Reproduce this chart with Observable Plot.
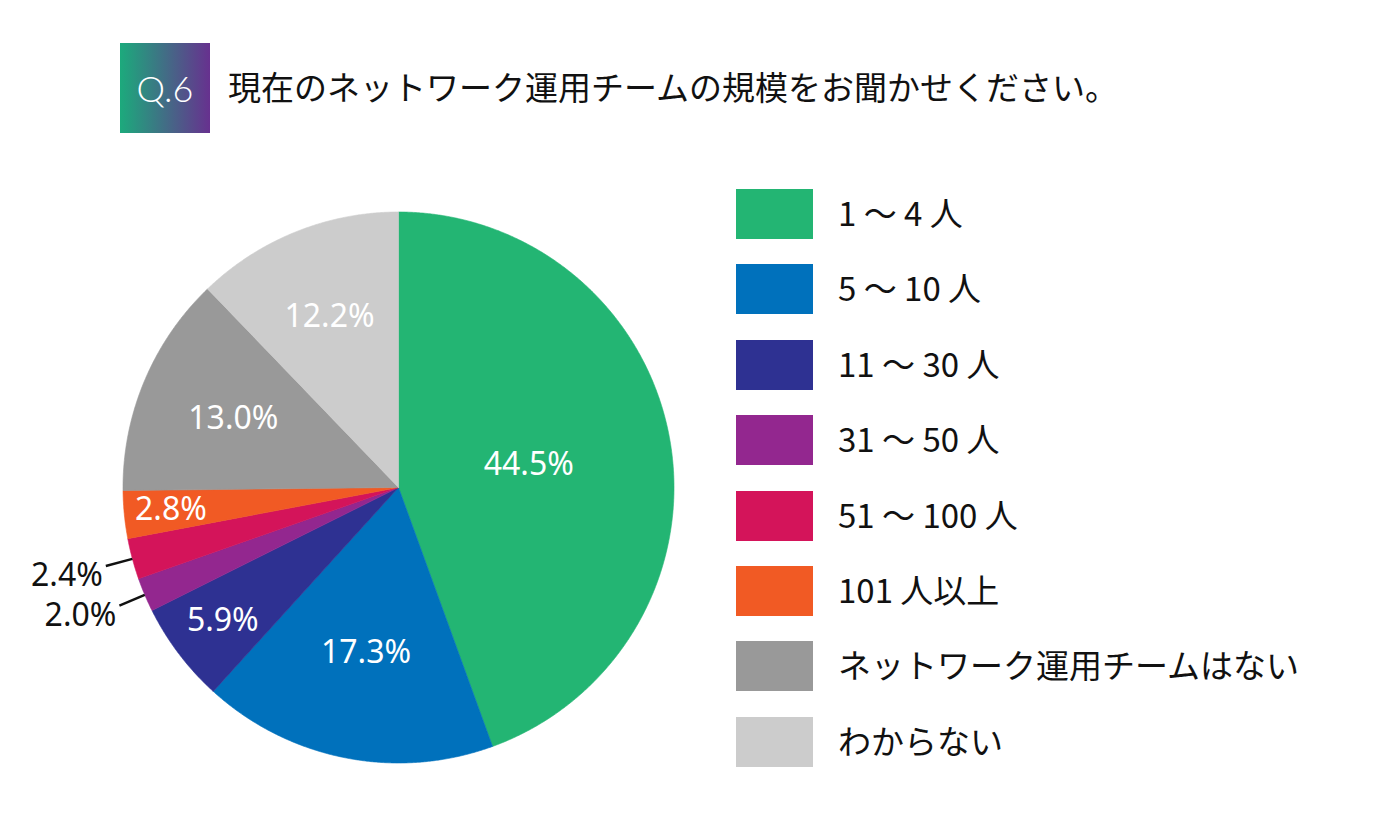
<!DOCTYPE html>
<html><head><meta charset="utf-8">
<script src="https://cdn.jsdelivr.net/npm/d3@7"></script>
<script src="https://cdn.jsdelivr.net/npm/@observablehq/plot@0.6"></script>
<style>
body{margin:0;background:#fff;}
#wrap{position:relative;width:1400px;height:830px;overflow:hidden;font-family:"Noto Sans CJK JP","Noto Sans",sans-serif;}
#qbox{position:absolute;left:120px;top:43px;width:90px;height:90px;background:linear-gradient(90deg,#1caa7c,#67318f);color:#fff;font-family:Lato,"Open Sans",sans-serif;font-weight:300;font-size:36px;display:flex;align-items:center;justify-content:center;}
#title{position:absolute;left:228px;top:64px;font-size:33px;line-height:44px;color:#111;white-space:nowrap;}
#pie{position:absolute;left:0;top:180px;}
.sw{position:absolute;left:736px;width:77px;height:50px;}
.lt{position:absolute;left:838px;height:50px;line-height:50px;font-size:33px;color:#111;white-space:nowrap;}
</style></head>
<body><div id="wrap">
<div id="qbox">Q.6</div>
<div id="title">現在のネットワーク運用チームの規模をお聞かせください。</div>
<div id="pie"></div>
</div>
<script>
// ---- data ----
const categories = ["1 〜 4 人","5 〜 10 人","11 〜 30 人","31 〜 50 人","51 〜 100 人","101 人以上","ネットワーク運用チームはない","わからない"];
const values = [44.5, 17.3, 5.9, 2.0, 2.4, 2.8, 13.0, 12.2];
const colors = ["#23b573","#0071bc","#2e3192","#93278f","#d4145a","#f15a24","#999999","#cccccc"];

// ---- layout ----
const labelRadius = {"1 〜 4 人":0.48,"5 〜 10 人":0.61,"11 〜 30 人":0.80,"101 人以上":0.83,"ネットワーク運用チームはない":0.65,"わからない":0.67};
const outside = ["31 〜 50 人","51 〜 100 人"];
const W = 700, H = 620, cx = 398, cy = 307, R = 275.5;

const total = d3.sum(values);
const slices = [];
let cum = 0;
categories.forEach((c,i)=>{
  const a0 = cum/total*2*Math.PI; cum += values[i];
  const a1 = cum/total*2*Math.PI;
  slices.push({cat:c, value:values[i], a0, a1, mid:(a0+a1)/2});
});
const poly = [];
for (const s of slices) {
  poly.push({cat:s.cat, x:0, y:0});
  const n = Math.max(4, Math.ceil((s.a1-s.a0)/0.005));
  for (let k=0;k<=n;k++){ const a = s.a0+(s.a1-s.a0)*k/n; poly.push({cat:s.cat, x:Math.sin(a), y:Math.cos(a)}); }
  poly.push({cat:s.cat, x:0, y:0});
}
const fmt = v => v.toFixed(1)+"%";
const inLabels = slices.filter(s=>!outside.includes(s.cat)).map(s=>({text:fmt(s.value), x:labelRadius[s.cat]*Math.sin(s.mid), y:labelRadius[s.cat]*Math.cos(s.mid)}));
const outLabels = slices.filter(s=>outside.includes(s.cat)).map(s=>({text:fmt(s.value), x1:Math.sin(s.mid), y1:Math.cos(s.mid), x2:1.1*Math.sin(s.mid), y2:1.1*Math.cos(s.mid)}));

const chart = Plot.plot({
  width: W, height: H, margin: 0,
  x: {domain: [-cx/R, (W-cx)/R], axis: null},
  y: {domain: [-(H-cy)/R, cy/R], axis: null},
  color: {domain: categories, range: colors},
  style: {fontFamily: "'Noto Sans', sans-serif", background: "transparent"},
  marks: [
    Plot.line(poly, {x:"x", y:"y", z:"cat", fill:"cat", stroke:"cat", strokeWidth:0.6}),
    Plot.text(inLabels, {x:"x", y:"y", text:"text", fill:"white", fontSize:32}),
    Plot.link(outLabels, {x1:"x1", y1:"y1", x2:"x2", y2:"y2", stroke:"#111", strokeWidth:2.5}),
    Plot.text(outLabels, {x:"x2", y:"y2", text:"text", fill:"#111", fontSize:32, textAnchor:"end", dx:-3, dy:10})
  ]
});
document.getElementById("pie").appendChild(chart);

// legend
const wrap = document.getElementById("wrap");
categories.forEach((c,i)=>{
  const top = 214 + i*75.4 - 25;
  const sw = document.createElement("div"); sw.className="sw"; sw.style.top=top+"px"; sw.style.background=colors[i]; wrap.appendChild(sw);
  const t = document.createElement("div"); t.className="lt"; t.style.top=(top-2)+"px"; t.textContent=c; wrap.appendChild(t);
});
</script>
</body></html>
